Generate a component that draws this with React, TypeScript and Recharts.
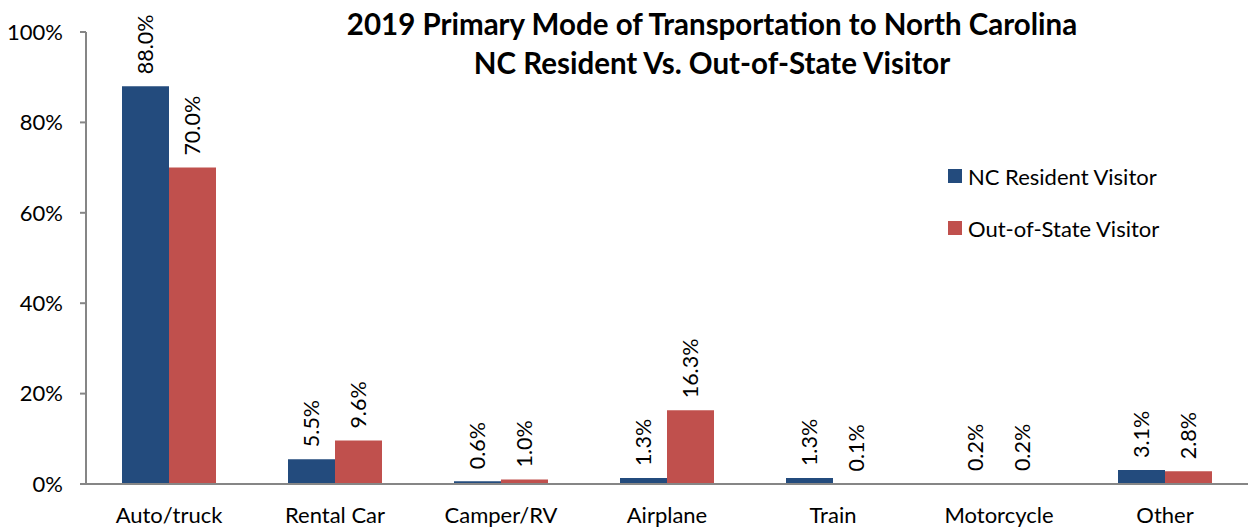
import React from 'react';
import { BarChart, Bar, XAxis, YAxis, LabelList, Legend } from 'recharts';

const categories = ['Auto/truck', 'Rental Car', 'Camper/RV', 'Airplane', 'Train', 'Motorcycle', 'Other'];
const ncResident = [88.0, 5.5, 0.6, 1.3, 1.3, 0.2, 3.1];
const outOfState = [70.0, 9.6, 1.0, 16.3, 0.1, 0.2, 2.8];
const yTicks = [0, 20, 40, 60, 80, 100];
const boundaryTicks = [0, 1, 2, 3, 4, 5, 6, 7];
const seriesNames = ['NC Resident Visitor', 'Out-of-State Visitor'];
const titleLines = ['2019 Primary Mode of Transportation to North Carolina', 'NC Resident Vs. Out-of-State Visitor'];

const data = categories.map((c, i) => ({ name: c, nc: ncResident[i], oos: outOfState[i] }));

const BLUE = '#234B7D';
const RED = '#C0504D';
const AXIS = '#868686';
const FONT = 'Lato, "Noto Sans", sans-serif';

const renderLabel = (props: any) => {
  const { x, y, width, value } = props;
  const cx = Number(x) + Number(width) / 2;
  const cy = Number(y) - 12;
  return (
    <text
      x={cx}
      y={cy}
      transform={`rotate(-90 ${cx} ${cy})`}
      textAnchor="start"
      dominantBaseline="central"
      fontSize={21.5}
      fontFamily={FONT}
      fill="#000"
    >
      {`${Number(value).toFixed(1)}%`}
    </text>
  );
};

const renderLegend = (props: any) => {
  const payload = (props && props.payload) || [];
  return (
    <div style={{ fontFamily: FONT, fontSize: 22, color: '#000' }}>
      {payload.map((it: any) => (
        <div key={it.value} style={{ display: 'flex', alignItems: 'center', height: 52 }}>
          <span style={{ display: 'inline-block', width: 14, height: 14, background: it.color, marginRight: 6 }} />
          <span>{it.value}</span>
        </div>
      ))}
    </div>
  );
};

export default function App() {
  return (
    <div style={{ position: 'absolute', left: 0, top: 0, width: 1249, height: 527, background: '#fff' }}>
      <div
        style={{
          position: 'absolute',
          left: 0,
          top: 4,
          width: 1424,
          textAlign: 'center',
          fontFamily: FONT,
          fontWeight: 'bold',
          fontSize: 29.5,
          lineHeight: '39px',
          color: '#000',
          zIndex: 2,
          pointerEvents: 'none',
        }}
      >
        {titleLines.map((t) => (
          <div key={t}>{t}</div>
        ))}
      </div>
      <BarChart
        width={1249}
        height={527}
        data={data}
        margin={{ top: 32, right: 1, bottom: 0, left: 0 }}
        barCategoryGap={36}
        barGap={0}
      >
        <XAxis
          xAxisId="grid"
          type="number"
          domain={[0, 7]}
          ticks={boundaryTicks}
          allowDataOverflow
          tick={false}
          tickLine={{ stroke: AXIS, strokeWidth: 2 }}
          tickSize={7}
          axisLine={false}
          height={0}
        />
        <XAxis
          dataKey="name"
          tickLine={false}
          axisLine={{ stroke: AXIS, strokeWidth: 2 }}
          tick={{ fill: '#000', fontSize: 22, fontFamily: FONT }}
          tickMargin={17}
          height={43}
          interval={0}
        />
        <YAxis
          domain={[0, 100]}
          ticks={yTicks}
          tickFormatter={(v: number) => `${v}%`}
          width={86}
          axisLine={{ stroke: AXIS, strokeWidth: 2 }}
          tickLine={{ stroke: AXIS, strokeWidth: 2 }}
          tickSize={6}
          tickMargin={17}
          tick={{ fill: '#000', fontSize: 22, fontFamily: FONT }}
        />
        <Legend
          layout="vertical"
          verticalAlign="middle"
          align="center"
          content={renderLegend}
          wrapperStyle={{ left: 948, top: 150, width: 290, transform: 'none' }}
        />
        <Bar dataKey="nc" name={seriesNames[0]} fill={BLUE} isAnimationActive={false}>
          <LabelList dataKey="nc" content={renderLabel} />
        </Bar>
        <Bar dataKey="oos" name={seriesNames[1]} fill={RED} isAnimationActive={false}>
          <LabelList dataKey="oos" content={renderLabel} />
        </Bar>
      </BarChart>
    </div>
  );
}
